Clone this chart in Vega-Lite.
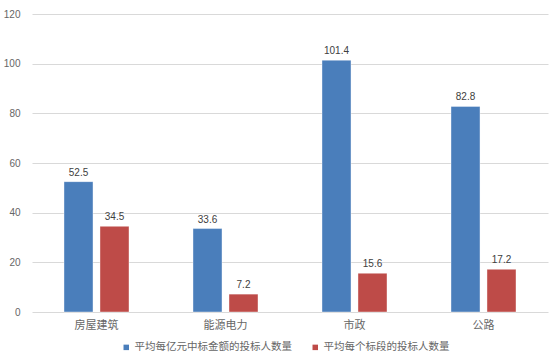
{
  "$schema": "https://vega.github.io/schema/vega-lite/v6.json",
  "autosize": {"type": "none"},
  "width": 516,
  "height": 298,
  "padding": {"left": 32, "top": 14, "right": 5, "bottom": 46},
  "background": "white",
  "config": {
    "view": {"stroke": null},
    "font": "Noto Sans CJK SC"
  },
  "data": {
    "values": [
      {"category": "房屋建筑", "series": "平均每亿元中标金额的投标人数量", "value": 52.5},
      {"category": "房屋建筑", "series": "平均每个标段的投标人数量", "value": 34.5},
      {"category": "能源电力", "series": "平均每亿元中标金额的投标人数量", "value": 33.6},
      {"category": "能源电力", "series": "平均每个标段的投标人数量", "value": 7.2},
      {"category": "市政", "series": "平均每亿元中标金额的投标人数量", "value": 101.4},
      {"category": "市政", "series": "平均每个标段的投标人数量", "value": 15.6},
      {"category": "公路", "series": "平均每亿元中标金额的投标人数量", "value": 82.8},
      {"category": "公路", "series": "平均每个标段的投标人数量", "value": 17.2}
    ]
  },
  "encoding": {
    "x": {
      "field": "category", "type": "nominal", "sort": null,
      "scale": {"paddingInner": 0, "paddingOuter": 0},
      "axis": {"title": null, "labelAngle": 0, "domain": false, "ticks": false, "labelFontSize": 11, "labelColor": "#666666", "labelPadding": 7, "labelFont": "Noto Sans CJK SC"}
    },
    "xOffset": {
      "field": "series", "type": "nominal", "sort": null,
      "scale": {"paddingInner": 0.194, "paddingOuter": 0.889}
    },
    "y": {
      "field": "value", "type": "quantitative",
      "scale": {"domain": [0, 120]},
      "axis": {"title": null, "values": [0, 20, 40, 60, 80, 100, 120], "domain": false, "ticks": false, "labelFontSize": 10, "labelColor": "#666666", "labelPadding": 12, "gridColor": "#D9D9D9", "gridWidth": 1, "labelFont": "Liberation Sans"}
    }
  },
  "layer": [
    {
      "mark": {"type": "bar", "strokeWidth": 0.8, "stroke": "#ffffff", "strokeOpacity": 0.5},
      "encoding": {
        "color": {
          "field": "series", "type": "nominal", "sort": null,
          "scale": {"range": ["#4A7EBB", "#BE4B48"]},
          "legend": {
            "title": null, "orient": "none", "direction": "horizontal",
            "legendX": 89, "legendY": 328,
            "symbolType": "square", "symbolSize": 30, "symbolStrokeWidth": 0,
            "labelFontSize": 10.5, "labelColor": "#666666", "columnPadding": 18, "labelOffset": 3,
            "labelLimit": 300
          }
        }
      }
    },
    {
      "mark": {"type": "text", "dy": -9, "fontSize": 10, "color": "#404040", "font": "Liberation Sans"},
      "encoding": {
        "text": {"field": "value", "type": "quantitative", "format": ".1f"}
      }
    }
  ]
}
